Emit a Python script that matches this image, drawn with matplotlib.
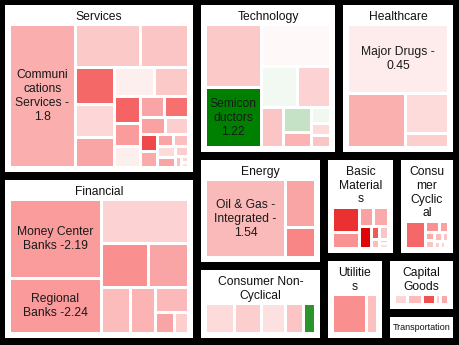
import matplotlib
matplotlib.use("Agg")
import matplotlib.pyplot as plt
from matplotlib.patches import Rectangle
import numpy as np

# Sectors (size = market weight, title as wrapped in the chart)
SECTOR_NAMES = ["Services", "Financial", "Technology", "Healthcare", "Energy",
                "Consumer Non-Cyclical", "Basic Materials", "Consumer Cyclical",
                "Utilities", "Capital Goods", "Transportation"]
SECTOR_TITLES = ["Services", "Financial", "Technology", "Healthcare", "Energy",
                 "Consumer Non-\nCyclical", "Basic\nMaterial\ns", "Consu\nmer\nCyclic\nal",
                 "Utilitie\ns", "Capital\nGoods", "Transportation"]
SECTOR_SIZES = [34300, 32536, 22010, 18290, 13970, 9652, 7373, 6060, 5270, 3976, 2059]

# Industries per sector: size, % change, label
SERVICES_SIZES = [9372, 2795, 2064, 1404, 1287, 1170, 1160, 986, 715, 621, 553, 493, 493,
                  420, 400, 285, 275, 190, 190, 185, 180, 130, 66, 42, 35]
SERVICES_CHANGES = [-1.8, -1.2, -1.3, -3.4, -0.9, -2.0, -0.35, -1.2, -3.5, -2.2, -0.35, -2.0, -3.2,
                    -2.1, -1.1, -4.2, -1.9, -2.0, -1.45, -0.8, -2.0, -1.1, -1.4, -0.9, -0.7]
SERVICES_LABELS = ["Communi\ncations\nServices -\n1.8"]

FINANCIAL_SIZES = [7200, 5050, 3850, 2068, 1782, 1342, 1138, 825, 390, 287]
FINANCIAL_CHANGES = [-2.19, -2.24, -1.0, -2.5, -2.0, -1.5, -1.7, -1.55, -2.0, -1.1]
FINANCIAL_LABELS = ["Money Center\nBanks -2.19", "Regional\nBanks -2.24"]

TECH_SIZES = [3528, 3360, 2884, 1494, 1390, 900, 700, 435, 312, 244, 224]
TECH_CHANGES = [-1.2, 1.22, -0.15, 0.06, -1.0, -1.3, 0.27, -1.7, 0.07, -0.8, -1.3]
TECH_LABELS = ["", "Semicon\nductors\n1.22"]

HEALTH_SIZES = [7054, 3159, 1720, 602]
HEALTH_CHANGES = [-0.45, -1.75, -0.8, -1.1]
HEALTH_LABELS = ["Major Drugs -\n0.45"]

ENERGY_SIZES = [5960, 1365, 870]
ENERGY_CHANGES = [-1.54, -2.0, -2.7]
ENERGY_LABELS = ["Oil & Gas -\nIntegrated -\n1.54"]

NONCYC_SIZES = [841, 774, 690, 520, 360]
NONCYC_CHANGES = [-0.8, -1.1, -0.7, -1.3, 1.0]

MATERIALS_SIZES = [636, 411, 259, 259, 250, 106, 112, 72, 38, 38]
MATERIALS_CHANGES = [-4.8, -2.4, -2.1, -1.9, -5.9, -3.8, -1.3, -1.5, -1.3, -0.7]

CYCLICAL_SIZES = [523, 163, 95, 75, 75, 68, 52, 41, 30, 22]
CYCLICAL_CHANGES = [-3.4, -2.4, -2.1, -1.9, -1.3, -1.5, -1.3, -1.1, -1.0, -1.2]

UTIL_SIZES = [1273, 418]
UTIL_CHANGES = [-2.5, -1.4]

CAPGOODS_SIZES = [13, 14.7, 12.3, 5.3, 8]
CAPGOODS_CHANGES = [-0.9, -1.5, -4.0, -1.1, -1.9]

INDUSTRIES = {
    "Services": (SERVICES_SIZES, SERVICES_CHANGES, SERVICES_LABELS),
    "Financial": (FINANCIAL_SIZES, FINANCIAL_CHANGES, FINANCIAL_LABELS),
    "Technology": (TECH_SIZES, TECH_CHANGES, TECH_LABELS),
    "Healthcare": (HEALTH_SIZES, HEALTH_CHANGES, HEALTH_LABELS),
    "Energy": (ENERGY_SIZES, ENERGY_CHANGES, ENERGY_LABELS),
    "Consumer Non-Cyclical": (NONCYC_SIZES, NONCYC_CHANGES, []),
    "Basic Materials": (MATERIALS_SIZES, MATERIALS_CHANGES, []),
    "Consumer Cyclical": (CYCLICAL_SIZES, CYCLICAL_CHANGES, []),
    "Utilities": (UTIL_SIZES, UTIL_CHANGES, []),
    "Capital Goods": (CAPGOODS_SIZES, CAPGOODS_CHANGES, []),
}

FONT = "Liberation Sans"
LINE = 13.8


def worst(row, side):
    s = sum(row)
    return max(max(side * side * r / (s * s), s * s / (side * side * r)) for r in row)


def squarify(values, x, y, w, h):
    """Squarified treemap, y grows downward. Returns list of (x, y, w, h)."""
    total = float(sum(values))
    vals = [v * w * h / total for v in values]
    rects = []
    while vals:
        side = min(w, h)
        row = [vals[0]]
        i = 1
        while i < len(vals) and worst(row + [vals[i]], side) <= worst(row, side):
            row.append(vals[i])
            i += 1
        s = sum(row)
        if w >= h:
            cw = s / h
            yy = y
            for a in row:
                rects.append((x, yy, cw, a / cw))
                yy += a / cw
            x += cw
            w -= cw
        else:
            rh = s / w
            xx = x
            for a in row:
                rects.append((xx, y, a / rh, rh))
                xx += a / rh
            y += rh
            h -= rh
        vals = vals[i:]
    return rects


def change_color(v):
    if v < 0:
        r = np.interp(v, [-6, -3, 0], [224, 248, 255])
        g = np.interp(v, [-6, -3, 0], [0, 120, 255])
        b = g
    else:
        r = np.interp(v, [0, 1.2], [255, 0])
        g = np.interp(v, [0, 1.2], [255, 128])
        b = r
    return (r / 255, g / 255, b / 255)


fig = plt.figure(figsize=(4.6, 3.45), dpi=100, facecolor="black")
ax = fig.add_axes([0, 0, 1, 1])
ax.set_xlim(0, 460)
ax.set_ylim(345, 0)
ax.axis("off")

cells = squarify(SECTOR_SIZES, 1, 1, 456, 341)
for name, title, (cx, cy, cw, ch) in zip(SECTOR_NAMES, SECTOR_TITLES, cells):
    bx, by, bw, bh = cx + 4, cy + 4, cw - 8, ch - 8
    ax.add_patch(Rectangle((bx, by), bw, bh, facecolor="white", linewidth=0))
    lines = title.split("\n")

    if name not in INDUSTRIES:
        ax.text(bx + bw / 2, by + bh / 2, title, ha="center", va="center",
                fontsize=6.5, family=FONT, color="#111111")
        continue

    for i, line in enumerate(lines):
        ax.text(bx + bw / 2, by + 5 + LINE * (i + 0.5), line, ha="center", va="center",
                fontsize=8.7, family=FONT, color="#111111")

    sizes, changes, labels = INDUSTRIES[name]
    rx = bx + 4.5
    ry = by + 6 + LINE * len(lines)
    rw = bw - 9
    rh = by + bh - 4.5 - ry
    for k, (x, y, w, h) in enumerate(squarify(sizes, rx, ry, rw, rh)):
        ax.add_patch(Rectangle((x + 1.5, y + 1.5), w - 3, h - 3,
                               facecolor=change_color(changes[k]), linewidth=0))
        if k < len(labels) and labels[k]:
            lab = labels[k].split("\n")
            yc = y + h / 2
            for j, line in enumerate(lab):
                ax.text(x + w / 2, yc + 14 * (j - (len(lab) - 1) / 2), line,
                        ha="center", va="center", fontsize=8.7, family=FONT,
                        color="#1a1a1a")

plt.savefig("out.png", dpi=100, facecolor="black")
plt.close()
